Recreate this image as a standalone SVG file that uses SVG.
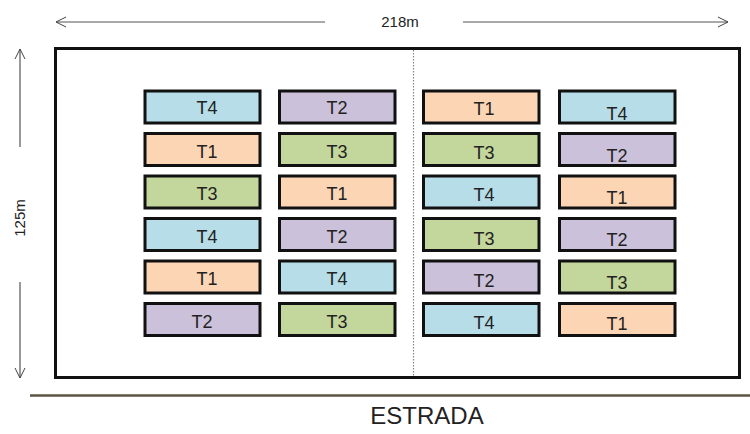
<svg xmlns="http://www.w3.org/2000/svg" width="750" height="434" viewBox="0 0 750 434">
  <defs>
    <marker id="open-arrow" viewBox="0 0 12 12" refX="11" refY="6" markerWidth="12" markerHeight="12" markerUnits="userSpaceOnUse" orient="auto">
      <path d="M1,1 L11,6 L1,11" fill="none" stroke="#444" stroke-width="1"/>
    </marker>
    <style>
      .dim { stroke: #555; stroke-width: 1.2; fill: none; }
      .lbl { font-family: "Liberation Sans", Arial, sans-serif; fill: #222; text-anchor: middle; }
      .plot rect { stroke: #111; stroke-width: 3; }
      .plot text { font-family: "Liberation Sans", Arial, sans-serif; font-size: 18px; fill: #222; text-anchor: middle; }
      .t1 { fill: #fcd5b5; }
      .t2 { fill: #ccc1da; }
      .t3 { fill: #c3d69b; }
      .t4 { fill: #b7dde8; }
    </style>
  </defs>

  <rect width="750" height="434" fill="#ffffff"/>

  <!-- field boundary and centre divider -->
  <g id="field">
    <rect x="55.5" y="48.5" width="684" height="329" fill="#ffffff" stroke="#111" stroke-width="3"/>
    <line x1="413.5" y1="50" x2="413.5" y2="376" stroke="#888" stroke-width="1.2" stroke-dasharray="1.5,1.5"/>
  </g>

  <!-- road -->
  <g id="road">
    <line x1="30" y1="395.5" x2="750" y2="395.5" stroke="#5b5343" stroke-width="2.5"/>
    <text class="lbl" x="427" y="424" font-size="24">ESTRADA</text>
  </g>

  <!-- dimension arrows -->
  <g id="dimensions">
    <line class="dim" x1="325" y1="22" x2="56" y2="22" marker-end="url(#open-arrow)"/>
    <line class="dim" x1="463" y1="22" x2="728" y2="22" marker-end="url(#open-arrow)"/>
    <text class="lbl" x="400" y="27" font-size="15">218m</text>
    <line class="dim" x1="20" y1="147" x2="20" y2="49" marker-end="url(#open-arrow)"/>
    <line class="dim" x1="20" y1="282" x2="20" y2="378" marker-end="url(#open-arrow)"/>
    <text class="lbl" x="0" y="0" font-size="15" transform="translate(25,218) rotate(-90)">125m</text>
  </g>

  <!-- column 1 -->
  <g id="c1r1" class="plot"><rect class="t4" x="145" y="91" width="115" height="32"/><text x="207" y="114">T4</text></g>
  <g id="c1r2" class="plot"><rect class="t1" x="145" y="133.5" width="115" height="32"/><text x="207" y="158">T1</text></g>
  <g id="c1r3" class="plot"><rect class="t3" x="145" y="176" width="115" height="32"/><text x="207" y="200">T3</text></g>
  <g id="c1r4" class="plot"><rect class="t4" x="145" y="218.5" width="115" height="32"/><text x="207" y="243">T4</text></g>
  <g id="c1r5" class="plot"><rect class="t1" x="145" y="261" width="115" height="32"/><text x="207" y="285">T1</text></g>
  <g id="c1r6" class="plot"><rect class="t2" x="145" y="303.5" width="115" height="32"/><text x="202" y="328">T2</text></g>

  <!-- column 2 -->
  <g id="c2r1" class="plot"><rect class="t2" x="279.5" y="91" width="115.5" height="32"/><text x="337" y="114">T2</text></g>
  <g id="c2r2" class="plot"><rect class="t3" x="279.5" y="133.5" width="115.5" height="32"/><text x="337" y="158">T3</text></g>
  <g id="c2r3" class="plot"><rect class="t1" x="279.5" y="176" width="115.5" height="32"/><text x="337" y="200">T1</text></g>
  <g id="c2r4" class="plot"><rect class="t2" x="279.5" y="218.5" width="115.5" height="32"/><text x="337" y="243">T2</text></g>
  <g id="c2r5" class="plot"><rect class="t4" x="279.5" y="261" width="115.5" height="32"/><text x="337" y="285">T4</text></g>
  <g id="c2r6" class="plot"><rect class="t3" x="279.5" y="303.5" width="115.5" height="32"/><text x="337" y="328">T3</text></g>

  <!-- column 3 -->
  <g id="c3r1" class="plot"><rect class="t1" x="423.5" y="91" width="115.5" height="32"/><text x="484" y="115">T1</text></g>
  <g id="c3r2" class="plot"><rect class="t3" x="423.5" y="133.5" width="115.5" height="32"/><text x="484" y="159">T3</text></g>
  <g id="c3r3" class="plot"><rect class="t4" x="423.5" y="176" width="115.5" height="32"/><text x="484" y="201">T4</text></g>
  <g id="c3r4" class="plot"><rect class="t3" x="423.5" y="218.5" width="115.5" height="32"/><text x="484" y="245">T3</text></g>
  <g id="c3r5" class="plot"><rect class="t2" x="423.5" y="261" width="115.5" height="32"/><text x="484" y="287">T2</text></g>
  <g id="c3r6" class="plot"><rect class="t4" x="423.5" y="303.5" width="115.5" height="32"/><text x="484" y="329">T4</text></g>

  <!-- column 4 -->
  <g id="c4r1" class="plot"><rect class="t4" x="559.5" y="91" width="115.5" height="32"/><text x="617" y="120">T4</text></g>
  <g id="c4r2" class="plot"><rect class="t2" x="559.5" y="133.5" width="115.5" height="32"/><text x="617" y="162">T2</text></g>
  <g id="c4r3" class="plot"><rect class="t1" x="559.5" y="176" width="115.5" height="32"/><text x="617" y="204">T1</text></g>
  <g id="c4r4" class="plot"><rect class="t2" x="559.5" y="218.5" width="115.5" height="32"/><text x="617" y="246">T2</text></g>
  <g id="c4r5" class="plot"><rect class="t3" x="559.5" y="261" width="115.5" height="32"/><text x="617" y="289">T3</text></g>
  <g id="c4r6" class="plot"><rect class="t1" x="559.5" y="303.5" width="115.5" height="32"/><text x="617" y="330">T1</text></g>
</svg>
